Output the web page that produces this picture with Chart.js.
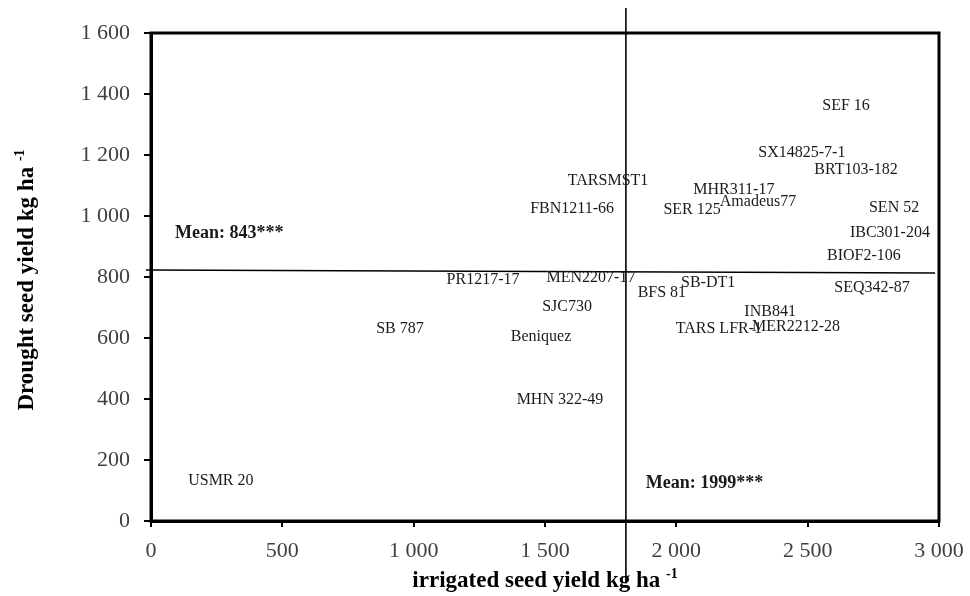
<!DOCTYPE html>
<html>
<head>
<meta charset="utf-8">
<script src="https://cdn.jsdelivr.net/npm/chart.js@4/dist/chart.umd.min.js"></script>
<style>
html,body{margin:0;padding:0;background:#fff;}
#wrap{width:970px;height:596px;position:relative;}
</style>
</head>
<body>
<div id="wrap"><canvas id="c" width="970" height="596"></canvas></div>
<script>
// ---- data ----
const genotypes = ["SEF 16","SX14825-7-1","BRT103-182","TARSMST1","MHR311-17","Amadeus77","SER 125","FBN1211-66","SEN 52","IBC301-204","BIOF2-106","MEN2207-17","PR1217-17","BFS 81","SB-DT1","SEQ342-87","SJC730","INB841","TARS LFR-1","MER2212-28","SB 787","Beniquez","MHN 322-49","USMR 20"];
const irrigatedYield = [2646,2478,2684,1740,2219,2311,2060,1603,2829,2813,2714,1675,1264,1945,2121,2745,1584,2357,2162,2456,948,1485,1557,266];
const droughtYield   = [1361,1207,1151,1115,1085,1046,1020,1023,1026,944,869,797,790,748,780,764,702,685,630,636,630,603,397,131];

const meanLabels = ["Mean: 843***","Mean: 1999***"];
const meanLabelX = [91, 1884];
const meanLabelY = [944, 125];

const droughtMeanLineX = [-19, 2985];
const droughtMeanLineY = [823, 813];
const irrigatedMeanLineX = [1808, 1808];
const irrigatedMeanLineY = [1682, -205];

const xTicks = [0,500,1000,1500,2000,2500,3000];
const yTicks = [0,200,400,600,800,1000,1200,1400,1600];

const xTitle = "irrigated seed yield kg ha ";
const yTitle = "Drought seed yield kg ha ";
const unitSup = "-1";

// ---- helpers ----
const SERIF = '"Liberation Serif","Times New Roman",serif';
function fmt(v){ return String(v).replace(/\B(?=(\d{3})+(?!\d))/g, ' '); }
const pts = irrigatedYield.map((x,i)=>({x:x,y:droughtYield[i]}));
const hLine = droughtMeanLineX.map((x,i)=>({x:x,y:droughtMeanLineY[i]}));
const vLine = irrigatedMeanLineX.map((x,i)=>({x:x,y:irrigatedMeanLineY[i]}));

const decor = {
  id:'decor',
  afterDatasetsDraw(chart){
    const ctx = chart.ctx, a = chart.chartArea, xs = chart.scales.x, ys = chart.scales.y;
    ctx.save();
    // frame
    ctx.strokeStyle = '#000'; ctx.lineWidth = 3;
    ctx.strokeRect(a.left, a.top, a.right - a.left, a.bottom - a.top);
    // point labels
    const meta = chart.getDatasetMeta(0);
    ctx.fillStyle = '#1a1a1a';
    ctx.font = '16px ' + SERIF;
    ctx.textAlign = 'center'; ctx.textBaseline = 'middle';
    meta.data.forEach((p,i)=>{ ctx.fillText(genotypes[i], p.x, p.y); });
    // mean labels
    ctx.font = 'bold 18px ' + SERIF;
    ctx.textAlign = 'left';
    meanLabels.forEach((t,i)=>{ ctx.fillText(t, xs.getPixelForValue(meanLabelX[i]), ys.getPixelForValue(meanLabelY[i])); });
    // axis titles with superscript
    function titleWithSup(main, cx, cy, rot){
      ctx.save();
      ctx.translate(cx, cy); ctx.rotate(rot);
      ctx.font = 'bold 23px ' + SERIF;
      const w1 = ctx.measureText(main).width;
      ctx.font = 'bold 14px ' + SERIF;
      const w2 = ctx.measureText(unitSup).width;
      const start = -(w1 + w2)/2;
      ctx.textAlign = 'left'; ctx.textBaseline = 'middle';
      ctx.fillStyle = '#000';
      ctx.font = 'bold 23px ' + SERIF;
      ctx.fillText(main, start, 0);
      ctx.font = 'bold 14px ' + SERIF;
      ctx.fillText(unitSup, start + w1, -7);
      ctx.restore();
    }
    titleWithSup(xTitle, (a.left + a.right)/2, 581, 0);
    titleWithSup(yTitle, 27, (a.top + a.bottom)/2 + 3, -Math.PI/2);
    ctx.restore();
  }
};

new Chart(document.getElementById('c'), {
  type:'scatter',
  data:{
    datasets:[
      {data:pts, pointRadius:0, pointHoverRadius:0, showLine:false},
      {type:'line', data:hLine, borderColor:'#000', borderWidth:1.6, pointRadius:0, fill:false, clip:false},
      {type:'line', data:vLine, borderColor:'#000', borderWidth:1.6, pointRadius:0, fill:false, clip:false}
    ]
  },
  options:{
    responsive:false, animation:false,
    layout:{padding:{left:0, top:33, right:31, bottom:0}},
    plugins:{legend:{display:false}, tooltip:{enabled:false}, title:{display:false}},
    scales:{
      x:{
        type:'linear', min:0, max:3000,
        afterBuildTicks(s){ s.ticks = xTicks.map(v=>({value:v})); },
        afterFit(s){ s.height = 75; s.paddingLeft = 0; s.paddingRight = 0; },
        grid:{drawOnChartArea:false, drawTicks:true, tickLength:6, color:'#000', lineWidth:2},
        border:{display:true, color:'#000', width:3},
        ticks:{color:'#404040', padding:11, font:{family:SERIF, size:22}, callback:v=>fmt(v), maxRotation:0, autoSkip:false}
      },
      y:{
        type:'linear', min:0, max:1600,
        afterBuildTicks(s){ s.ticks = yTicks.map(v=>({value:v})); },
        afterFit(s){ s.width = 151; s.paddingTop = 0; s.paddingBottom = 0; },
        grid:{drawOnChartArea:false, drawTicks:true, tickLength:7, color:'#000', lineWidth:2},
        border:{display:true, color:'#000', width:3},
        ticks:{color:'#404040', padding:14, font:{family:SERIF, size:22}, callback:v=>fmt(v), autoSkip:false}
      }
    }
  },
  plugins:[decor]
});
</script>
</body>
</html>
